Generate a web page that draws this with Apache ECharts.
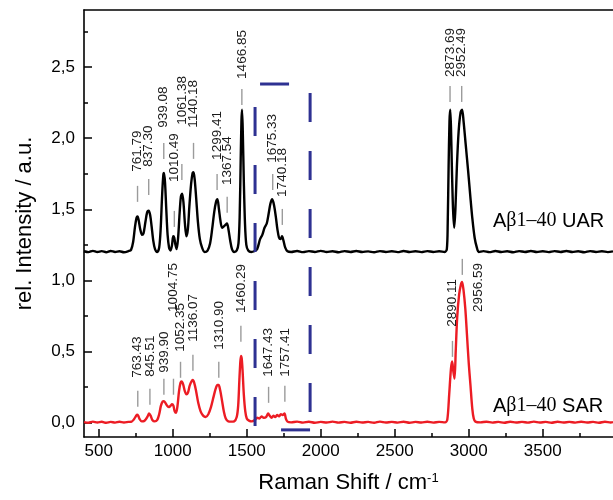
<!DOCTYPE html>
<html>
<head>
<meta charset="utf-8">
<script src="https://cdn.jsdelivr.net/npm/echarts@6/dist/echarts.min.js"></script>
<style>
html,body{margin:0;padding:0;background:#fff;}
#chart{width:613px;height:500px;}
</style>
</head>
<body>
<div id="chart"></div>
<script>
// ---------- data ----------
const xTickValues = [500, 1000, 1500, 2000, 2500, 3000, 3500];
const xMinorTickValues = [750, 1250, 1750, 2250, 2750, 3250, 3750];
const yTickValues = [0, 0.5, 1.0, 1.5, 2.0, 2.5];
const yMinorTickValues = [0.25, 0.75, 1.25, 1.75, 2.25, 2.75];

// Aβ1–40 UAR (black, offset spectrum)
const uarSpectrum = [
[400,1.205],[430,1.199],[460,1.208],[490,1.2],[520,1.206],[550,1.198],[580,1.207],[610,1.2],[640,1.205],[670,1.198],[700,1.206],[718,1.215],[732,1.27],[745,1.38],[755,1.44],[762,1.45],[770,1.42],[780,1.36],[792,1.32],[802,1.33],[815,1.41],[827,1.48],[837,1.49],[847,1.46],[857,1.38],[868,1.28],[880,1.22],[895,1.2],[908,1.23],[918,1.36],[928,1.6],[936,1.74],[941,1.755],[948,1.68],[956,1.5],[965,1.32],[975,1.23],[985,1.21],[995,1.25],[1003,1.31],[1010,1.3],[1018,1.25],[1026,1.22],[1036,1.3],[1046,1.47],[1055,1.59],[1063,1.61],[1072,1.55],[1082,1.4],[1092,1.31],[1102,1.36],[1112,1.52],[1124,1.68],[1134,1.755],[1140,1.76],[1148,1.71],[1158,1.58],[1170,1.41],[1183,1.29],[1198,1.23],[1215,1.2],[1235,1.21],[1252,1.26],[1266,1.36],[1280,1.48],[1292,1.55],[1302,1.57],[1312,1.5],[1322,1.42],[1333,1.37],[1345,1.38],[1356,1.39],[1366,1.4],[1376,1.36],[1388,1.28],[1400,1.22],[1415,1.2],[1432,1.21],[1444,1.26],[1452,1.45],[1459,1.85],[1464,2.12],[1468,2.2],[1473,2.05],[1480,1.7],[1488,1.4],[1497,1.25],[1510,1.21],[1530,1.2],[1550,1.205],[1570,1.22],[1590,1.29],[1605,1.32],[1620,1.37],[1635,1.4],[1648,1.47],[1660,1.54],[1672,1.57],[1684,1.53],[1696,1.45],[1707,1.36],[1718,1.3],[1728,1.29],[1738,1.31],[1748,1.28],[1760,1.23],[1775,1.205],[1800,1.2],[1840,1.207],[1880,1.199],[1920,1.206],[1960,1.2],[2000,1.208],[2040,1.2],[2080,1.205],[2120,1.198],[2160,1.206],[2200,1.2],[2240,1.207],[2280,1.2],[2320,1.204],[2360,1.198],[2400,1.206],[2440,1.2],[2480,1.205],[2520,1.199],[2560,1.207],[2600,1.2],[2640,1.205],[2680,1.199],[2720,1.206],[2760,1.2],[2800,1.205],[2838,1.2],[2852,1.22],[2858,1.4],[2864,1.8],[2870,2.12],[2875,2.2],[2880,2.08],[2886,1.8],[2894,1.5],[2902,1.37],[2910,1.5],[2920,1.8],[2932,2.05],[2945,2.18],[2955,2.2],[2965,2.12],[2980,1.95],[2995,1.78],[3010,1.6],[3025,1.43],[3040,1.3],[3055,1.23],[3068,1.2],[3100,1.206],[3140,1.199],[3180,1.207],[3220,1.2],[3260,1.205],[3300,1.198],[3340,1.206],[3380,1.2],[3420,1.207],[3460,1.2],[3500,1.205],[3540,1.199],[3580,1.206],[3620,1.2],[3660,1.207],[3700,1.2],[3740,1.205],[3780,1.198],[3820,1.206],[3860,1.2],[3900,1.205],[3940,1.199],[3975,1.204]
];

// Aβ1–40 SAR (red)
const sarSpectrum = [
[400,0.005],[430,0.0],[460,0.008],[490,0.002],[520,0.007],[550,0.0],[580,0.006],[610,0.001],[640,0.007],[670,0.002],[700,0.006],[722,0.008],[738,0.025],[750,0.045],[758,0.056],[766,0.05],[776,0.025],[790,0.01],[805,0.012],[818,0.025],[830,0.045],[840,0.065],[850,0.05],[862,0.02],[878,0.01],[895,0.02],[908,0.06],[920,0.12],[932,0.15],[940,0.152],[950,0.14],[962,0.12],[975,0.11],[985,0.12],[995,0.13],[1004,0.12],[1013,0.08],[1022,0.07],[1032,0.12],[1042,0.22],[1052,0.28],[1060,0.29],[1070,0.27],[1082,0.22],[1092,0.2],[1102,0.21],[1114,0.26],[1126,0.29],[1135,0.3],[1145,0.28],[1158,0.22],[1172,0.14],[1188,0.08],[1205,0.05],[1222,0.04],[1240,0.06],[1258,0.11],[1275,0.18],[1290,0.24],[1302,0.265],[1310,0.265],[1320,0.23],[1332,0.16],[1345,0.08],[1358,0.03],[1375,0.01],[1395,0.008],[1415,0.01],[1432,0.04],[1442,0.12],[1450,0.3],[1456,0.42],[1461,0.47],[1466,0.45],[1472,0.36],[1480,0.2],[1490,0.08],[1500,0.03],[1515,0.015],[1535,0.01],[1555,0.02],[1570,0.035],[1585,0.03],[1600,0.045],[1615,0.035],[1630,0.04],[1645,0.065],[1655,0.05],[1668,0.035],[1680,0.05],[1692,0.04],[1705,0.055],[1718,0.045],[1730,0.06],[1742,0.055],[1755,0.065],[1764,0.03],[1775,0.008],[1800,0.003],[1840,0.008],[1880,0.001],[1920,0.007],[1960,0.0],[2000,0.006],[2040,0.002],[2080,0.008],[2120,0.001],[2160,0.006],[2200,0.0],[2240,0.007],[2280,0.002],[2320,0.006],[2360,0.0],[2400,0.008],[2440,0.002],[2480,0.006],[2520,0.001],[2560,0.007],[2600,0.0],[2640,0.006],[2680,0.002],[2720,0.007],[2760,0.001],[2800,0.006],[2840,0.003],[2855,0.02],[2868,0.2],[2880,0.38],[2888,0.43],[2896,0.36],[2904,0.31],[2912,0.5],[2922,0.74],[2935,0.9],[2947,0.97],[2955,0.99],[2965,0.93],[2977,0.8],[2988,0.62],[3000,0.42],[3012,0.26],[3024,0.1],[3034,0.03],[3045,0.008],[3080,0.003],[3120,0.007],[3160,0.001],[3200,0.006],[3240,0.0],[3280,0.007],[3320,0.002],[3360,0.006],[3400,0.001],[3440,0.008],[3480,0.002],[3520,0.006],[3560,0.0],[3600,0.007],[3640,0.002],[3680,0.006],[3720,0.001],[3760,0.007],[3800,0.002],[3840,0.006],[3880,0.0],[3920,0.007],[3960,0.002],[3975,0.005]
];

// peak annotations (label, wavenumber, tick foot, text foot)
const uarPeakLabels = ['761.79','837.30','939.08','1010.49','1061.38','1140.18','1299.41','1367.54','1466.85','1675.33','1740.18','2873.69','2952.49'];
const uarPeakX      = [761.79, 837.30, 939.08, 1010.49, 1061.38, 1140.18, 1299.41, 1367.54, 1466.85, 1675.33, 1740.18, 2873.69, 2952.49];
const uarTickFootY  = [1.552, 1.601, 1.854, 1.376, 1.706, 1.854, 1.636, 1.475, 2.233, 1.636, 1.390, 2.254, 2.254];
const uarTextFootY  = [1.763, 1.798, 2.072, 1.692, 2.093, 2.072, 1.847, 1.671, 2.416, 1.826, 1.587, 2.430, 2.430];

const sarPeakLabels = ['763.43','845.51','939.90','1004.75','1052.35','1136.07','1310.90','1460.29','1647.43','1757.41','2890.11','2956.59'];
const sarPeakX      = [763.43, 845.51, 939.90, 1004.75, 1052.35, 1136.07, 1310.90, 1460.29, 1647.43, 1757.41, 2890.11, 2956.59];
const sarTickFootY  = [0.112, 0.126, 0.197, 0.197, 0.316, 0.365, 0.316, 0.569, 0.140, 0.147, 0.463, 1.039];
const sarTextFootY  = [0.316, 0.323, 0.351, 0.779, 0.499, 0.569, 0.513, 0.772, 0.323, 0.323, 0.674, 0.779];

// dashed blue box (wavenumber range, intensity range)
const boxX = [1556, 1928];
const boxY = [-0.05, 2.38];

// ---------- chart ----------
const FONT = 'Liberation Sans';
const sideLabels = ['2956.59'];

function annotationSeries(labels, xs, tickYs, textYs) {
  return {
    type: 'custom',
    xAxisIndex: 0, yAxisIndex: 0,
    silent: true, clip: false, z: 6,
    encode: { x: 0, y: 1 },
    data: xs.map((x, i) => [x, tickYs[i], textYs[i]]),
    renderItem: function (params, api) {
      const i = params.dataIndex;
      const p = api.coord([api.value(0), api.value(1)]);
      const t = api.coord([api.value(0), api.value(2)]);
      const side = sideLabels.indexOf(labels[i]) >= 0;
      return {
        type: 'group',
        children: [
          { type: 'line', shape: { x1: p[0], y1: p[1], x2: p[0], y2: p[1] - 16 },
            style: { stroke: '#9b9b9b', lineWidth: 1.4 } },
          { type: 'text', x: side ? t[0] + 16 : t[0], y: t[1], rotation: Math.PI / 2,
            style: { text: labels[i], font: '13.5px "' + FONT + '"', fill: '#1a1a1a',
                     align: 'left', verticalAlign: 'middle' } }
        ]
      };
    }
  };
}

function boxEdge(points, offset) {
  return {
    type: 'line', xAxisIndex: 0, yAxisIndex: 0, symbol: 'none', silent: true, z: 4,
    data: points,
    lineStyle: { color: '#2e3192', width: 3, type: [29, 29], dashOffset: offset, cap: 'butt' }
  };
}

const axisLineStyle = { color: '#000', width: 1.6 };
const xMin = 400, xMax = 3975, yMin = -0.1, yMax = 2.9;

const chart = echarts.init(document.getElementById('chart'), null, { renderer: 'canvas' });
chart.setOption({
  animation: false,
  backgroundColor: '#fff',
  textStyle: { fontFamily: FONT },
  grid: { left: 84, right: 0, top: 10, bottom: 63, containLabel: false },
  xAxis: [
    { type: 'value', min: xMin, max: xMax, position: 'bottom',
      name: 'Raman Shift / cm{sup|-1}', nameLocation: 'middle', nameGap: 35,
      nameTextStyle: { fontSize: 22, color: '#000', fontFamily: FONT,
        rich: { sup: { fontSize: 13, color: '#000', fontFamily: FONT, verticalAlign: 'top' } } },
      axisLine: { show: true, onZero: false, lineStyle: axisLineStyle },
      axisTick: { show: true, inside: true, length: 8, customValues: xTickValues, lineStyle: { color: '#000', width: 1.5 } },
      axisLabel: { show: true, customValues: xTickValues, fontSize: 17, color: '#000', margin: 6, fontFamily: FONT,
        formatter: v => String(Math.round(v)) },
      splitLine: { show: false } },
    { type: 'value', min: xMin, max: xMax, position: 'bottom',
      axisLine: { show: false, onZero: false },
      axisTick: { show: true, inside: true, length: 4, customValues: xMinorTickValues, lineStyle: { color: '#000', width: 1.5 } },
      axisLabel: { show: false }, splitLine: { show: false } },
    { type: 'value', min: xMin, max: xMax, position: 'top',
      axisLine: { show: true, onZero: false, lineStyle: axisLineStyle },
      axisTick: { show: false }, axisLabel: { show: false }, splitLine: { show: false } }
  ],
  yAxis: [
    { type: 'value', min: yMin, max: yMax, position: 'left',
      name: 'rel. Intensity / a.u.', nameLocation: 'middle', nameGap: 48,
      nameTextStyle: { fontSize: 22, color: '#000', fontFamily: FONT },
      axisLine: { show: true, onZero: false, lineStyle: axisLineStyle },
      axisTick: { show: true, inside: true, length: 8, customValues: yTickValues, lineStyle: { color: '#000', width: 1.5 } },
      axisLabel: { show: true, customValues: yTickValues, fontSize: 17, color: '#000', margin: 9, fontFamily: FONT,
        formatter: v => v.toFixed(1).replace('.', ',') },
      splitLine: { show: false } },
    { type: 'value', min: yMin, max: yMax, position: 'left',
      axisLine: { show: false, onZero: false },
      axisTick: { show: true, inside: true, length: 4, customValues: yMinorTickValues, lineStyle: { color: '#000', width: 1.5 } },
      axisLabel: { show: false }, splitLine: { show: false } }
  ],
  series: [
    { type: 'line', name: 'UAR', xAxisIndex: 0, yAxisIndex: 0, data: uarSpectrum, symbol: 'none',
      smooth: 0.3, lineStyle: { color: '#000', width: 2.4 }, z: 3 },
    { type: 'line', name: 'SAR', xAxisIndex: 0, yAxisIndex: 0, data: sarSpectrum, symbol: 'none',
      smooth: 0.3, lineStyle: { color: '#ec1c24', width: 2.4 }, z: 3 },
    boxEdge([[boxX[0], boxY[1]], [boxX[1], boxY[1]]], 53),
    boxEdge([[boxX[1], boxY[1]], [boxX[1], boxY[0]]], 49),
    boxEdge([[boxX[0], boxY[0]], [boxX[1], boxY[0]]], 32),
    boxEdge([[boxX[0], boxY[1]], [boxX[0], boxY[0]]], 35),
    annotationSeries(uarPeakLabels, uarPeakX, uarTickFootY, uarTextFootY),
    annotationSeries(sarPeakLabels, sarPeakX, sarTickFootY, sarTextFootY)
  ],
  graphic: [
    { type: 'text', x: 493, y: 211, silent: true,
      style: { text: '{a|A}{b|β1–40}{a| UAR}', verticalAlign: 'top',
        rich: { a: { fontSize: 20, fontFamily: FONT, fill: '#000' },
                b: { fontSize: 20, fontFamily: 'Liberation Serif', fill: '#000' } } } },
    { type: 'text', x: 493, y: 396, silent: true,
      style: { text: '{a|A}{b|β1–40}{a| SAR}', verticalAlign: 'top',
        rich: { a: { fontSize: 20, fontFamily: FONT, fill: '#000' },
                b: { fontSize: 20, fontFamily: 'Liberation Serif', fill: '#000' } } } }
  ]
});
</script>
</body>
</html>
